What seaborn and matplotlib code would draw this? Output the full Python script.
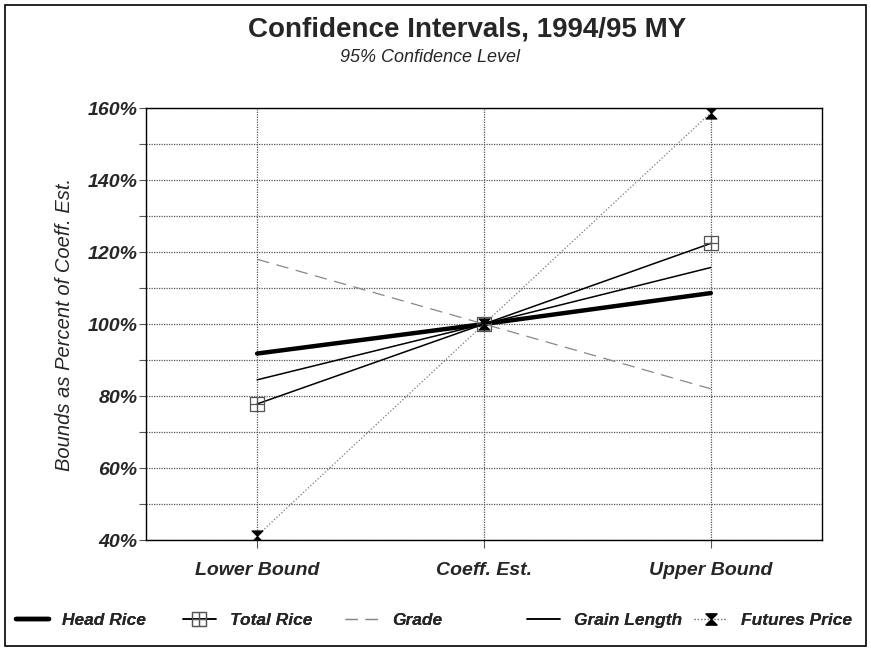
import numpy as np
import pandas as pd
import seaborn as sns
import matplotlib.pyplot as plt
from matplotlib.path import Path
from matplotlib.patches import Rectangle
from matplotlib.ticker import MultipleLocator, FuncFormatter

# Data (percent of coefficient estimate)
bounds = ['Lower Bound', 'Coeff. Est.', 'Upper Bound']
head_rice = [91.8, 100.0, 108.6]
total_rice = [77.8, 100.0, 122.4]
grade = [118.0, 100.0, 82.0]
grain_length = [84.5, 100.0, 115.7]
futures_price = [41.2, 100.0, 158.7]

sns.set_style('white')
plt.rcParams['font.family'] = ['Liberation Sans', 'DejaVu Sans']

# square with a cross inside
sq_cross = Path(
    [(-1, -1), (1, -1), (1, 1), (-1, 1), (-1, -1), (0, -1), (0, 1), (-1, 0), (1, 0)],
    [Path.MOVETO, Path.LINETO, Path.LINETO, Path.LINETO, Path.CLOSEPOLY,
     Path.MOVETO, Path.LINETO, Path.MOVETO, Path.LINETO])
# hourglass / bowtie
bowtie = Path(
    [(-1, 1), (1, 1), (0, 0), (-1, 1), (-1, -1), (1, -1), (0, 0), (-1, -1)],
    [Path.MOVETO, Path.LINETO, Path.LINETO, Path.CLOSEPOLY,
     Path.MOVETO, Path.LINETO, Path.LINETO, Path.CLOSEPOLY])

fig = plt.figure(figsize=(8.71, 6.5), dpi=100)
ax = fig.add_axes([0.1676, 0.1692, 0.7761, 0.6646])

x = np.arange(len(bounds))
sns.lineplot(x=x, y=head_rice, ax=ax, color='black', lw=3.2, label='Head Rice')
sns.lineplot(x=x, y=total_rice, ax=ax, color='black', lw=1.1, marker=sq_cross,
             markersize=10, mfc='none', mec='#555555', mew=0.9, label='Total Rice')
sns.lineplot(x=x, y=grade, ax=ax, color='#888888', lw=0.9, dashes=(10, 6), label='Grade')
sns.lineplot(x=x, y=grain_length, ax=ax, color='black', lw=1.1, label='Grain Length')
sns.lineplot(x=x, y=futures_price, ax=ax, color='#777777', lw=0.9, ls=':',
             marker=bowtie, markersize=8, mfc='black', mec='black', label='Futures Price')

ax.set_xlim(-0.49, 2.49)
ax.set_ylim(40, 160)
ax.set_xticks(x)
ax.set_xticklabels(bounds, fontsize=14, style='italic', fontweight='bold')
ax.yaxis.set_major_locator(MultipleLocator(20))
ax.yaxis.set_minor_locator(MultipleLocator(10))
ax.yaxis.set_major_formatter(FuncFormatter(lambda v, p: f'{v:.0f}%'))
for lab in ax.get_yticklabels():
    lab.set_fontsize(14)
    lab.set_style('italic')
    lab.set_fontweight('bold')
ax.tick_params(axis='y', which='both', direction='out', length=5, width=0.8, left=True,
               color='#555555', pad=1)
ax.tick_params(axis='x', direction='out', length=6, width=0.8, bottom=True,
               color='#555555', pad=10)

ax.grid(True, which='both', axis='y', color='#555555', ls=(0, (1, 1)), lw=0.9)
ax.grid(True, which='major', axis='x', color='#555555', ls=(0, (1, 1)), lw=0.9)
for s in ax.spines.values():
    s.set_color('black')
    s.set_linewidth(1.0)
ax.set_axisbelow(True)

ax.set_ylabel('Bounds as Percent of Coeff. Est.', fontsize=14.5, style='italic', labelpad=10)
ax.set_xlabel('')

fig.text(0.536, 0.955, 'Confidence Intervals, 1994/95 MY', ha='center', va='center',
         fontsize=20, fontweight='bold')
fig.text(0.494, 0.912, '95% Confidence Level', ha='center', va='center',
         fontsize=13, style='italic')

# legend items placed one by one along the bottom
ax.get_legend().remove()
handles, labels = ax.get_legend_handles_labels()
legend_x = [0.0, 0.192, 0.378, 0.587, 0.779]
for h, l, lx in zip(handles, labels, legend_x):
    lg = fig.legend([h], [l], loc='center left', bbox_to_anchor=(lx, 0.045),
                    frameon=False, handlelength=1.9, handletextpad=0.8,
                    prop={'style': 'italic', 'weight': 'bold', 'size': 12.5})
    fig.add_artist(lg)

fig.patches.append(Rectangle((0.006, 0.006), 0.988, 0.986, transform=fig.transFigure,
                             fill=False, ec='black', lw=1.2))

fig.savefig('out.png', dpi=100)
